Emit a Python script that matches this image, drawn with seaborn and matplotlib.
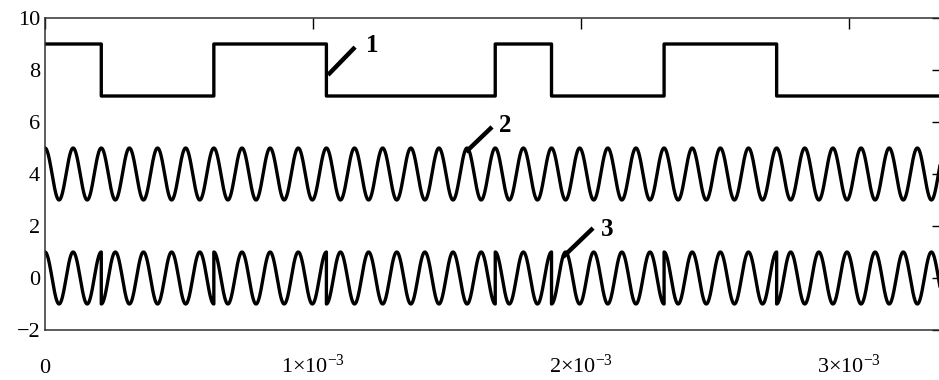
import numpy as np
import pandas as pd
import matplotlib
matplotlib.use("Agg")
import matplotlib.pyplot as plt
import seaborn as sns

# ---- data ----
bits = [1, 0, 0, 1, 1, 0, 0, 0, 1, 0, 0, 1, 1, 0, 0, 0]   # data bits (signal 1)
bit_period = 0.21e-3          # s per bit
cycles_per_bit = 2            # carrier cycles per bit
level_high = 9                # signal 1 levels
level_low = 7
carrier_offset = 4            # signal 2 centre
psk_offset = 0                # signal 3 centre
amplitude = 1

x_ticks = [0, 1e-3, 2e-3, 3e-3]
x_tick_labels = ["0", r"$1{\times}10^{-3}$", r"$2{\times}10^{-3}$", r"$3{\times}10^{-3}$"]
y_ticks = [-2, 0, 2, 4, 6, 8, 10]
y_tick_labels = ["\u22122", "0", "2", "4", "6", "8", "10"]
curve_names = ["1", "2", "3"]

# ---- build the curves from the bits ----
samples_per_bit = 200
t_all, s1, s2, s3 = [], [], [], []
for k, b in enumerate(bits):
    t = np.linspace(k * bit_period, (k + 1) * bit_period, samples_per_bit)
    ph = 2 * np.pi * cycles_per_bit * (t - k * bit_period) / bit_period
    t_all.append(t)
    s1.append(np.full_like(t, level_high if b else level_low))
    s2.append(carrier_offset + amplitude * np.cos(2 * np.pi * cycles_per_bit * t / bit_period))
    s3.append(psk_offset + amplitude * (1 if b else -1) * np.cos(ph))
t_all = np.concatenate(t_all)
df = pd.DataFrame({"t": t_all, "s1": np.concatenate(s1),
                   "s2": np.concatenate(s2), "s3": np.concatenate(s3)})

# ---- figure ----
sns.set_style("white")
plt.rcParams["font.family"] = ["Liberation Serif", "DejaVu Serif"]
plt.rcParams["mathtext.fontset"] = "custom"
plt.rcParams["mathtext.rm"] = "Liberation Serif"
plt.rcParams["mathtext.it"] = "Liberation Serif:italic"
plt.rcParams["mathtext.bf"] = "Liberation Serif:bold"

fig = plt.figure(figsize=(9.39, 3.80), dpi=100)
ax = fig.add_axes([45 / 939, 50 / 380, (943 - 45) / 939, 312 / 380])

for col in ["s1", "s2", "s3"]:
    sns.lineplot(data=df, x="t", y=col, ax=ax, estimator=None, sort=False,
                 color="black", linewidth=2.4)

ax.set_xlim(0, (943 - 45) / 268 * 1e-3)
ax.set_ylim(-2, 10)
ax.set_xlabel("")
ax.set_ylabel("")

ax.set_xticks(x_ticks)
ax.set_xticklabels(x_tick_labels)
ax.set_yticks(y_ticks)
ax.set_yticklabels(y_tick_labels)
ax.tick_params(axis="both", direction="in", length=8, width=1.0, color="black",
               labelsize=16, labelcolor="black", top=True, right=True)
ax.tick_params(axis="y", pad=3.5)
ax.tick_params(axis="x", pad=31)
for tk in ax.xaxis.get_major_ticks():
    tk.label1.set_verticalalignment("baseline")

for sp in ax.spines.values():
    sp.set_visible(True)
    sp.set_color("#303030")
    sp.set_linewidth(1.1)

# ---- curve labels with leader lines ----
leaders = [((1.056e-3, 7.81), (1.157e-3, 8.88), (1.220e-3, 8.96)),
           ((1.571e-3, 4.85), (1.668e-3, 5.81), (1.716e-3, 5.85)),
           ((1.933e-3, 0.81), (2.045e-3, 1.92), (2.097e-3, 1.85))]
for name, (p0, p1, pt) in zip(curve_names, leaders):
    ax.plot([p0[0], p1[0]], [p0[1], p1[1]], color="black", linewidth=3.2,
            solid_capstyle="butt")
    ax.text(pt[0], pt[1], name, ha="center", va="center", fontsize=18,
            fontweight="bold", color="black")

fig.savefig("out.png", dpi=100)
